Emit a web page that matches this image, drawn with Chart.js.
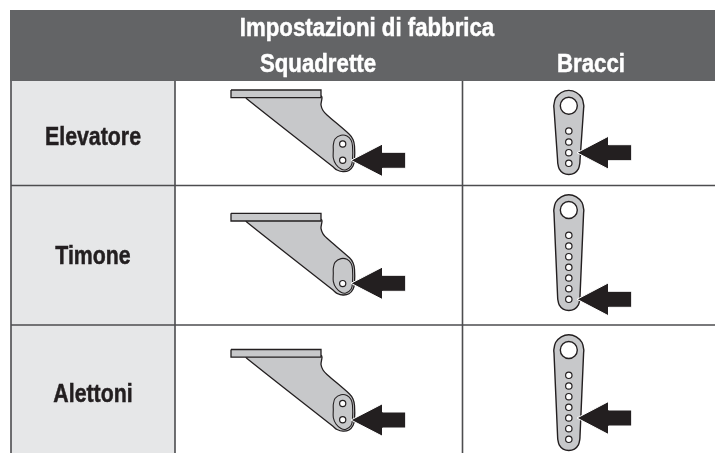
<!DOCTYPE html>
<html>
<head>
<meta charset="utf-8">
<script src="https://cdn.jsdelivr.net/npm/chart.js@4"></script>
<style>
  html, body { margin: 0; padding: 0; background: #fff; }
  canvas { display: block; }
</style>
</head>
<body>
<canvas id="chart" width="715" height="453"></canvas>
<script>
const titleLabel = "Impostazioni di fabbrica";
const columnLabels = ["Squadrette", "Bracci"];
const rowLabels = ["Elevatore", "Timone", "Alettoni"];

// table lines
const columnLines = [11, 175, 462.5];
const rowLines = [185.5, 325];

// shapes are outlines, row 1 is the reference
const rowShift = [0, 123.3, 259.5];
const hornFlange = [[231, 90], [321, 90], [321, 97.7], [231, 97.7], [231, 90]];
const hornBody = [[245, 96], [247, 99], [333, 166.8], [337, 170], [343, 171.7], [349, 170.5], [353, 166], [354.5, 160], [354.5, 146], [353, 139.5], [349.5, 134.5], [327, 115], [323, 110.5], [321, 105], [321, 96], [245, 96]];
const hornSlot = [[333.3, 150], [333.3, 145], [335, 139], [341, 135.3], [347, 136], [351, 140], [352.5, 146], [352.5, 160], [351, 166], [346, 169.7], [341, 169], [336, 164.5], [333.3, 158], [333.3, 150]];
const hornHoleX = 342.7;
const hornHoles = [[144, 160.3], [160.3], [144, 160.3]];

const armX = 568.8;
const armHubY = [105.7, 210, 350];
const armHoles = [
  [131, 142, 152.7, 163.3],
  [235.3, 246, 256.7, 267.3, 278, 288.7, 299.3],
  [375.3, 386, 396.7, 407.3, 418, 428.7, 439.3]
];
const armTopArc = [[-14.8, 3], [-15, 0], [-13.2, -7.5], [-7.5, -13.2], [0, -15.3], [7.5, -13.2], [13.2, -7.5], [15, 0], [14.8, 3]];
const armEndArc = [[11.2, -3], [11, 0], [9.6, 5.6], [5.6, 9.8], [0, 11.2], [-5.6, 9.8], [-9.6, 5.6], [-11, 0], [-11.2, -3]];

// arrow points left, tip at [0, 0]
const hornArrowTipX = 351;
const armArrowTipX = 577;
const hornArrowY = [160.3, 283.3, 420];
const armArrowY = [152.7, 299.3, 418];
const hornArrow = [[0, 0], [31.5, -16.3], [31.5, -8], [55, -8], [55, 8], [31.5, 8], [31.5, 16.3], [0, 0]];
const armArrow = [[0, 0], [31.5, -16.5], [31.5, -8], [55, -8], [55, 8], [31.5, 8], [31.5, 16.5], [0, 0]];

const headerBand = [[10, 10], [715, 10], [715, 81], [10, 81], [10, 10]];
const labelColumn = [[11, 81], [175, 81], [175, 453], [11, 453], [11, 81]];

const inkColor = "#231f20";
const gridColor = "#4d4d4f";
const partColor = "#c7c8ca";

function toPoints(list, dx, dy) {
  return list.map(p => ({ x: p[0] + dx, y: p[1] + dy }));
}

function shape(points, fillColor, lineColor, lineWidth, tension) {
  return {
    data: points,
    showLine: true,
    fill: fillColor ? "shape" : false,
    backgroundColor: fillColor || "transparent",
    borderColor: lineColor,
    borderWidth: lineWidth,
    tension: tension || 0,
    pointRadius: 0
  };
}

function dots(points, radius, lineWidth) {
  return {
    data: points,
    showLine: false,
    pointStyle: "circle",
    pointRadius: radius,
    pointBackgroundColor: "#ffffff",
    pointBorderColor: inkColor,
    pointBorderWidth: lineWidth
  };
}

const datasets = [];
datasets.push(shape(toPoints(labelColumn, 0, 0), "#e6e7e8", "#e6e7e8", 0));

columnLines.forEach(x => {
  datasets.push(shape([{ x: x, y: 81 }, { x: x, y: 453 }], null, gridColor, 1.6));
});
rowLines.forEach(y => {
  datasets.push(shape([{ x: 11, y: y }, { x: 715, y: y }], null, gridColor, 1.6));
});
datasets.push(shape(toPoints(headerBand, 0, 0), "#636466", "#636466", 0));

rowLabels.forEach((label, i) => {
  const dy = rowShift[i];
  datasets.push(shape(toPoints(hornBody, 0, dy), partColor, inkColor, 1.3, 0.3));
  datasets.push(shape(toPoints(hornFlange, 0, dy), partColor, inkColor, 1.3));
  datasets.push(shape(toPoints(hornSlot, 0, dy), partColor, inkColor, 1.1, 0.3));
  datasets.push(dots(hornHoles[i].map(y => ({ x: hornHoleX, y: y + dy })), 3.1, 1.2));
  datasets.push(shape(toPoints(hornArrow, hornArrowTipX, hornArrowY[i]), inkColor, "#ffffff", 1));

  const lastHole = armHoles[i][armHoles[i].length - 1];
  const outline = toPoints(armTopArc, armX, armHubY[i]).concat(toPoints(armEndArc, armX, lastHole));
  outline.push(outline[0]);
  datasets.push(shape(outline, partColor, inkColor, 1.4, 0.3));
  datasets.push(dots([{ x: armX, y: armHubY[i] }], 8.5, 1.4));
  datasets.push(dots(armHoles[i].map(y => ({ x: armX, y: y })), 3.2, 1.2));
  datasets.push(shape(toPoints(armArrow, armArrowTipX, armArrowY[i]), inkColor, "#ffffff", 1));
});

// first dataset has to paint first
datasets.forEach((d, i) => { d.order = datasets.length - i; });

const labelY = [137.5, 257, 394.5];
const headerSqueeze = 0.855;
const rowSqueeze = 0.82;
const textPlugin = {
  id: "tableText",
  afterDraw(chart) {
    const { ctx, scales } = chart;
    const put = (text, x, y, color, squeeze) => {
      ctx.save();
      ctx.translate(scales.x.getPixelForValue(x), scales.y.getPixelForValue(y));
      ctx.scale(squeeze, 1);
      ctx.fillStyle = color;
      ctx.strokeStyle = color;
      ctx.lineWidth = 0.5;
      ctx.fillText(text, 0, 0);
      ctx.strokeText(text, 0, 0);
      ctx.restore();
    };
    ctx.save();
    ctx.font = "bold 26px 'Liberation Sans'";
    ctx.textAlign = "center";
    ctx.textBaseline = "middle";
    put(titleLabel, 367, 29, "#ffffff", headerSqueeze);
    put(columnLabels[0], 318, 65, "#ffffff", headerSqueeze);
    put(columnLabels[1], 591, 65, "#ffffff", headerSqueeze);
    rowLabels.forEach((label, i) => put(label, 93, labelY[i], inkColor, rowSqueeze));
    ctx.restore();
  }
};

new Chart(document.getElementById("chart").getContext("2d"), {
  type: "scatter",
  data: { datasets: datasets },
  plugins: [textPlugin],
  options: {
    responsive: false,
    animation: false,
    events: [],
    layout: { padding: 0, autoPadding: false },
    plugins: { legend: { display: false }, tooltip: { enabled: false } },
    scales: {
      x: { type: "linear", min: 0, max: 715, display: false },
      y: { type: "linear", min: 0, max: 453, reverse: true, display: false }
    }
  }
});
</script>
</body>
</html>
